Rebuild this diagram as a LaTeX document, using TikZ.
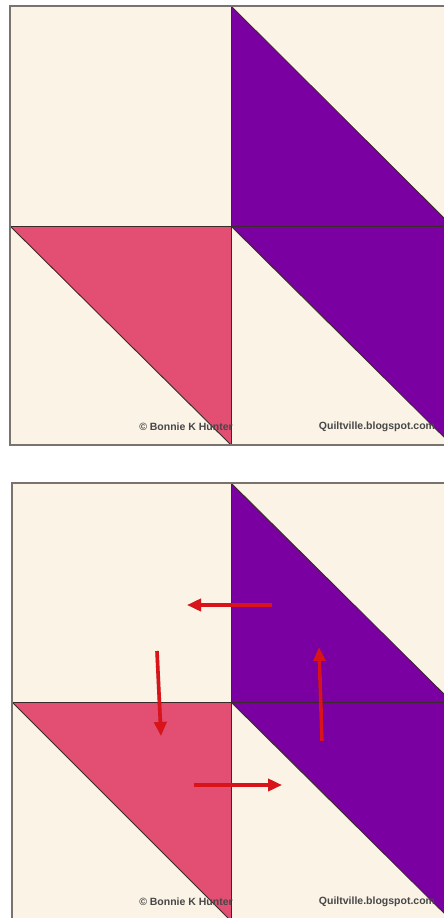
\documentclass[tikz,border=0pt]{standalone}
\usepackage{fontspec}
\setmainfont{Liberation Sans}
\usetikzlibrary{arrows.meta}
\definecolor{cream}{HTML}{FAF3E6}
\definecolor{pinkq}{HTML}{E24F73}
\definecolor{purpleq}{HTML}{7A00A2}
\definecolor{seam}{HTML}{3A2A2A}
\definecolor{frame}{HTML}{7A726C}
\definecolor{redarrow}{HTML}{D8141A}
\tikzset{
  seamline/.style={draw=seam, line width=0.9pt},
  framebox/.style={draw=frame, line width=1.8pt},
  credit/.style={font=\bfseries\fontsize{10.5}{12}\selectfont, text=black!72, inner sep=0pt},
  movearrow/.style={draw=redarrow, line width=3.6pt, -{Triangle[length=14pt,width=12pt]}},
  shadowarrow/.style={draw=black, line width=3.6pt, -{Triangle[length=14pt,width=12pt]}, opacity=0.18}
}
\begin{document}
\begin{tikzpicture}[x=1pt,y=-1pt]
\useasboundingbox (0,0) rectangle (444,918);
\fill[white] (0,0) rectangle (444,918);
% ---------- top block ----------
\begin{scope}
\clip (0,0) rectangle (444,918);
\fill[cream] (10,6) rectangle (452,445);
\fill[purpleq] (231,6) -- (231,226) -- (452,226) -- cycle;
\fill[purpleq] (231,226) -- (452,226) -- (452,445) -- cycle;
\fill[pinkq] (10,226) -- (231,226) -- (231,445) -- cycle;
\draw[seamline] (231,6) -- (231,445);
\draw[seamline] (10,226) -- (452,226);
\draw[seamline] (231,6) -- (452,226);
\draw[seamline] (231,226) -- (452,445);
\draw[seamline] (10,226) -- (231,445);
\draw[framebox] (452,6) -- (10,6) -- (10,445) -- (452,445);
\node[credit] (c1) at (186,427) {© Bonnie K Hunter};
\node[credit] (q1) at (377,427) {Quiltville.blogspot.com};
\end{scope}
% ---------- bottom block ----------
\begin{scope}
\clip (0,0) rectangle (444,918);
\fill[cream] (12,483) rectangle (452,921);
\fill[purpleq] (231,483) -- (231,702) -- (452,702) -- cycle;
\fill[purpleq] (231,702) -- (452,702) -- (452,921) -- cycle;
\fill[pinkq] (12,702) -- (231,702) -- (231,921) -- cycle;
\draw[seamline] (231,483) -- (231,921);
\draw[seamline] (12,702) -- (452,702);
\draw[seamline] (231,483) -- (452,702);
\draw[seamline] (231,702) -- (452,921);
\draw[seamline] (12,702) -- (231,921);
\draw[framebox] (452,483) -- (12,483) -- (12,921);
\node[credit] (c2) at (186,902) {© Bonnie K Hunter};
\node[credit] (q2) at (377,902) {Quiltville.blogspot.com};
\end{scope}
% ---------- arrows ----------
\coordinate (aLs) at (272,605); \coordinate (aLe) at (187,605);
\coordinate (aDs) at (157,651); \coordinate (aDe) at (161,736);
\coordinate (aUs) at (322,741); \coordinate (aUe) at (319,647);
\coordinate (aRs) at (194,785); \coordinate (aRe) at (282,785);
\begin{scope}[shift={(1.5,2)}]
\draw[shadowarrow] (aLs) -- (aLe);
\draw[shadowarrow] (aDs) -- (aDe);
\draw[shadowarrow] (aUs) -- (aUe);
\draw[shadowarrow] (aRs) -- (aRe);
\end{scope}
\draw[movearrow] (aLs) -- (aLe);
\draw[movearrow] (aDs) -- (aDe);
\draw[movearrow] (aUs) -- (aUe);
\draw[movearrow] (aRs) -- (aRe);
\end{tikzpicture}
\end{document}
